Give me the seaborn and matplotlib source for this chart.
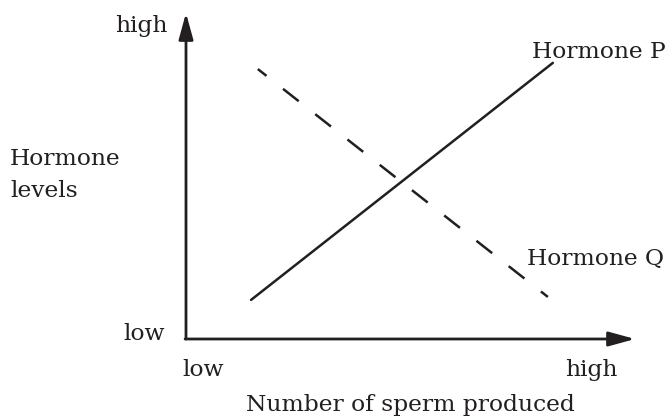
import pandas as pd
import matplotlib.pyplot as plt
import seaborn as sns

# sketch values on an arbitrary 0-10 scale (origin = low/low)
p_x = [1.45, 8.17]
p_y = [1.20, 8.47]
q_x = [1.60, 8.06]
q_y = [8.28, 1.29]
hormones = ["Hormone P", "Hormone Q"]

df = pd.DataFrame({
    "sperm": p_x + q_x,
    "level": p_y + q_y,
    "hormone": [hormones[0]] * 2 + [hormones[1]] * 2,
})

sns.set_theme(style="white")
plt.rcParams['font.family'] = ['DejaVu Serif']
ink = '#231f20'

fig = plt.figure(figsize=(6.69, 4.18), dpi=100)
ax = fig.add_axes([186/669, 79/418, 449/669, 326/418])
sns.lineplot(data=df, x="sperm", y="level", style="hormone",
             dashes={"Hormone P": "", "Hormone Q": (8, 8.4)},
             color=ink, lw=1.8, legend=False, ax=ax)
# start the dashed line on a partial dash like the original
ax.lines[1].set_linestyle((3.6, (8, 8.4)))
ax.set_xlim(0, 10)
ax.set_ylim(0, 10)
ax.axis('off')

arrow = dict(arrowstyle='-|>,head_length=0.8,head_width=0.22', lw=2, color=ink,
             mutation_scale=20, shrinkA=0, shrinkB=0)
ax.annotate('', xy=(10, 0), xytext=(-0.02, 0), arrowprops=arrow)
ax.annotate('', xy=(0, 10), xytext=(0, 0), arrowprops=arrow)

fs = 16.8
kw = dict(fontsize=fs, color=ink, va='baseline')
ax.text(7.71, 8.62, hormones[0], ha='left', **kw)
ax.text(7.59, 2.27, hormones[1], ha='left', **kw)
ax.text(-0.42, 9.42, "high", ha='right', **kw)
ax.text(-0.47, -0.03, "low", ha='right', **kw)
ax.text(-0.07, -1.14, "low", ha='left', **kw)
ax.text(8.44, -1.14, "high", ha='left', **kw)
ax.text(-3.92, 5.34, "Hormone", ha='left', **kw)
ax.text(-3.92, 4.36, "levels", ha='left', **kw)
ax.text(4.99, -2.21, "Number of sperm produced", ha='center', **kw)

fig.savefig("out.png", dpi=100)
